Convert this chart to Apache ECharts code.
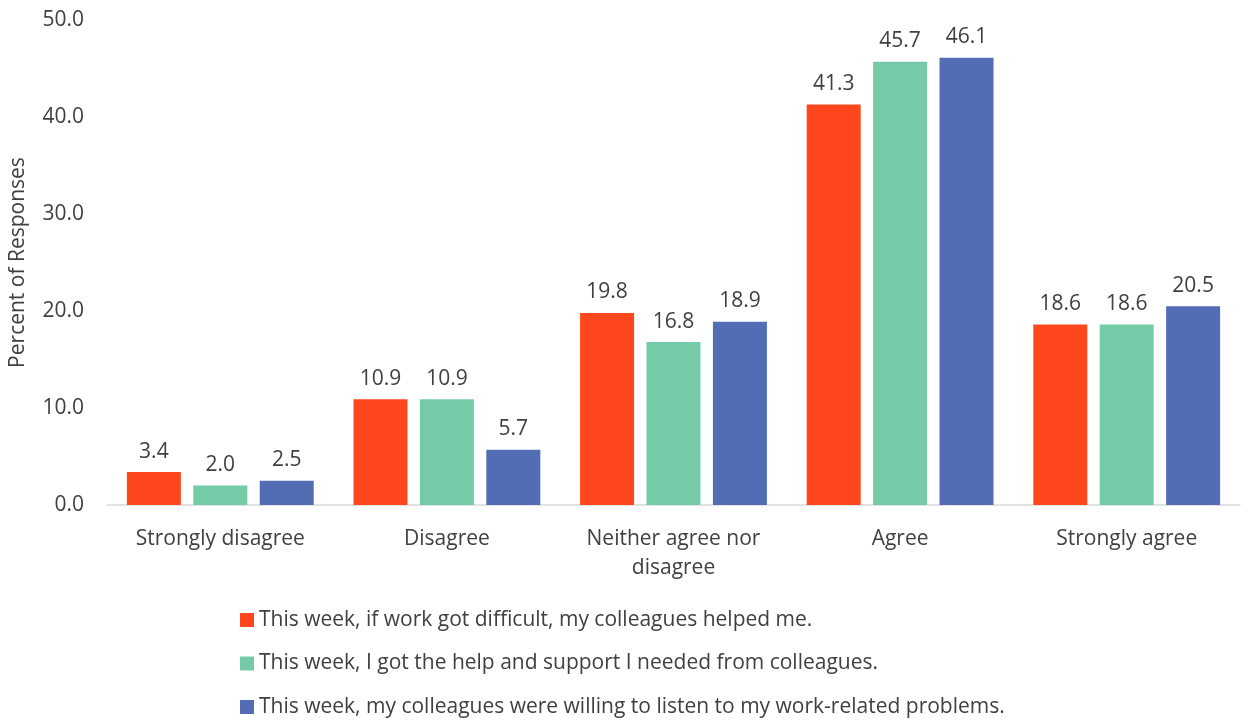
<!DOCTYPE html>
<html>
<head>
<meta charset="utf-8">
<script src="https://cdn.jsdelivr.net/npm/echarts@6/dist/echarts.min.js"></script>
<style>
  html, body { margin: 0; padding: 0; background: #fff; }
  #chart { width: 1249px; height: 720px; }
</style>
</head>
<body>
<div id="chart"></div>
<script>
// Survey responses by agreement level (percent)
const categories = ['Strongly disagree', 'Disagree', 'Neither agree nor\ndisagree', 'Agree', 'Strongly agree'];
const seriesNames = [
  'This week, if work got difficult, my colleagues helped me.',
  'This week, I got the help and support I needed from colleagues.',
  'This week, my colleagues were willing to listen to my work-related problems.'
];
const helpedMe = [3.4, 10.9, 19.8, 41.3, 18.6];
const gotSupport = [2.0, 10.9, 16.8, 45.7, 18.6];
const willingToListen = [2.5, 5.7, 18.9, 46.1, 20.5];
const yTicks = { min: 0, max: 50, interval: 10 };

const colors = ['#FF471E', '#75CBA8', '#536DB5'];
const textColor = '#404040';
const fontFamily = '"Open Sans", "Noto Sans", sans-serif';
const fontSize = 21;

function barSeries(name, data, color) {
  return {
    name: name,
    type: 'bar',
    data: data,
    barWidth: 54,
    barGap: '23%',
    itemStyle: { color: color },
    label: {
      show: true,
      position: 'top',
      distance: 10,
      formatter: p => p.value.toFixed(1),
      color: textColor,
      fontSize: fontSize,
      fontFamily: fontFamily
    }
  };
}

const chart = echarts.init(document.getElementById('chart'), null, { renderer: 'canvas' });
chart.setOption({
  animation: false,
  color: colors,
  grid: { left: 107, right: 9, top: 20, bottom: 215, containLabel: false },
  legend: {
    orient: 'vertical',
    left: 240,
    top: 609,
    padding: 0,
    itemWidth: 14,
    itemHeight: 14,
    itemGap: 21.5,
    icon: 'rect',
    textStyle: { color: textColor, fontSize: fontSize, lineHeight: 22, fontFamily: fontFamily },
    data: seriesNames
  },
  xAxis: {
    type: 'category',
    data: categories,
    axisLine: { lineStyle: { color: '#D9D9D9', width: 1.5 } },
    axisTick: { show: false },
    axisLabel: {
      color: textColor,
      fontSize: fontSize,
      fontFamily: fontFamily,
      margin: 20,
      lineHeight: 29,
      interval: 0
    }
  },
  yAxis: {
    type: 'value',
    min: yTicks.min,
    max: yTicks.max,
    interval: yTicks.interval,
    name: 'Percent of Responses',
    nameLocation: 'middle',
    nameGap: 78,
    nameTextStyle: { color: textColor, fontSize: fontSize, fontFamily: fontFamily },
    splitLine: { show: false },
    axisLine: { show: false },
    axisTick: { show: false },
    axisLabel: {
      color: textColor,
      fontSize: fontSize,
      fontFamily: fontFamily,
      margin: 23,
      formatter: v => v.toFixed(1)
    }
  },
  series: [
    barSeries(seriesNames[0], helpedMe, colors[0]),
    barSeries(seriesNames[1], gotSupport, colors[1]),
    barSeries(seriesNames[2], willingToListen, colors[2])
  ]
});
</script>
</body>
</html>
